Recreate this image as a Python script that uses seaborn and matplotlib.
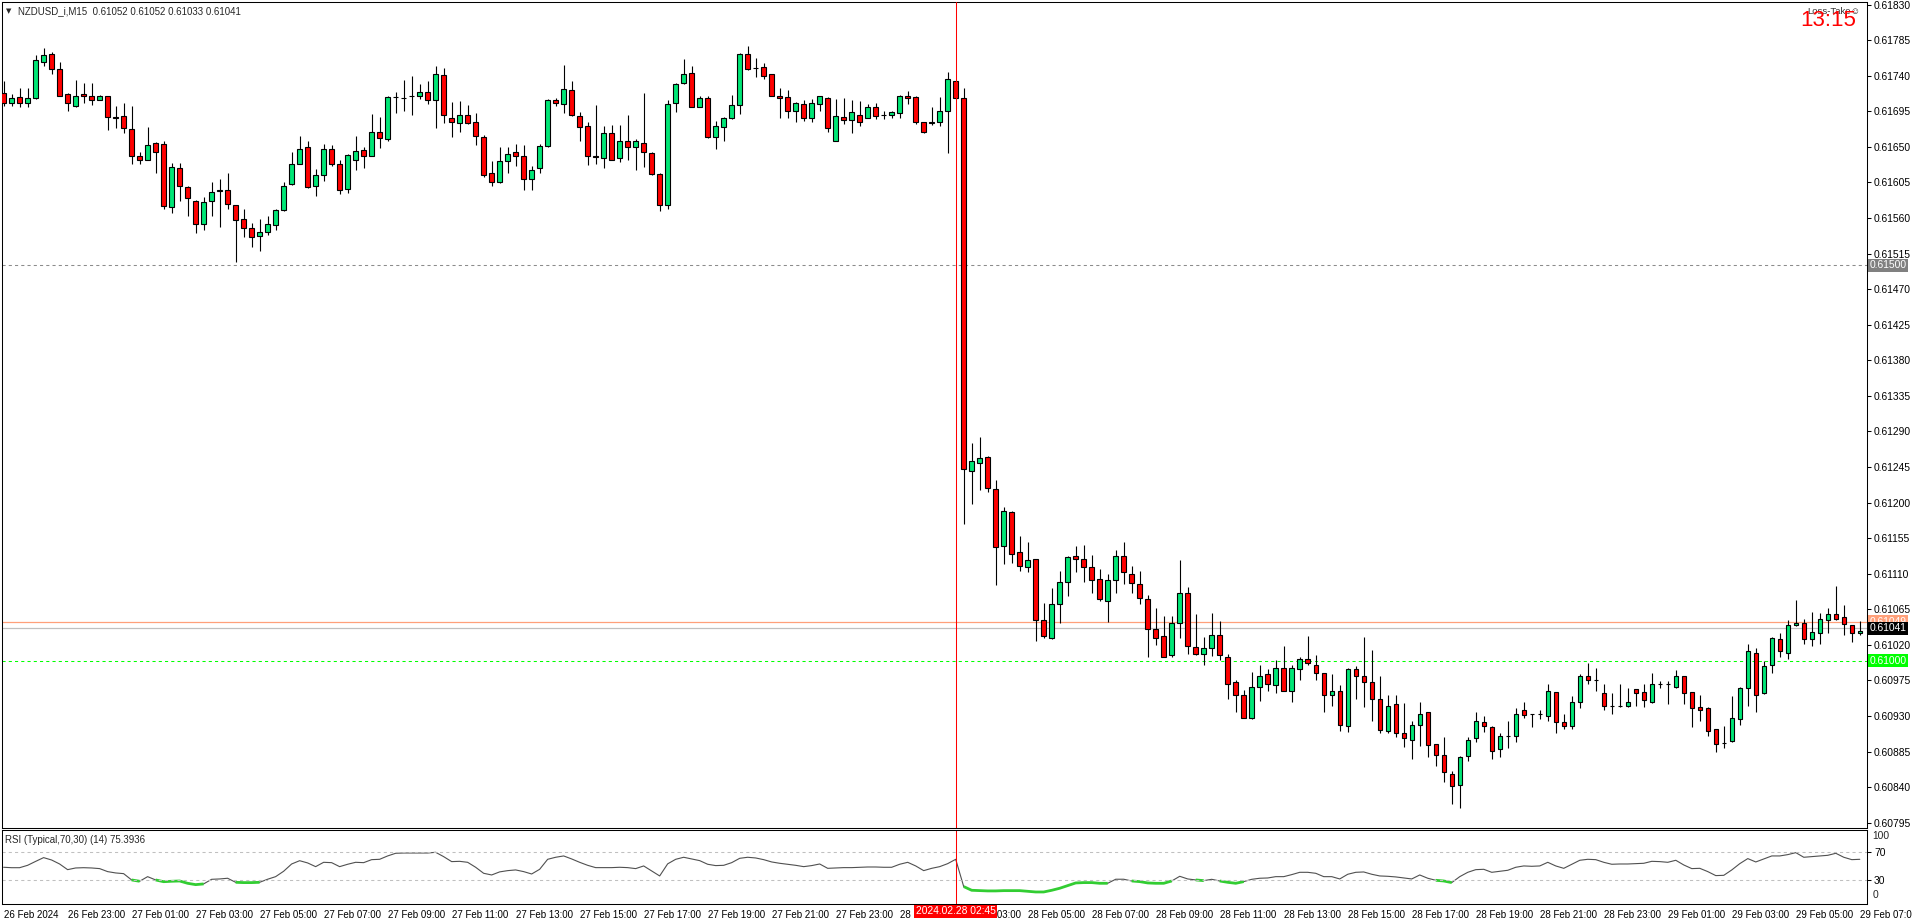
import numpy as np
import pandas as pd
import matplotlib
matplotlib.use("Agg")
import matplotlib.pyplot as plt
import matplotlib.transforms as mtransforms
import seaborn as sns

# NZDUSD_i M15 bars, prices in points (1 point = 0.00001)
opens = [61718, 61706, 61713, 61706, 61712, 61758, 61768, 61749, 61717, 61702,
         61717, 61715, 61710, 61715, 61688, 61689, 61673, 61639, 61634, 61655,
         61654, 61574, 61623, 61599, 61581, 61553, 61581, 61594, 61596, 61576,
         61559, 61548, 61537, 61542, 61551, 61570, 61603, 61629, 61650, 61601,
         61614, 61648, 61629, 61597, 61634, 61646, 61639, 61669, 61660, 61713,
         61712, 61714, 61715, 61719, 61709, 61741, 61687, 61680, 61691, 61681,
         61663, 61617, 61605, 61632, 61643, 61639, 61610, 61623, 61651, 61709,
         61704, 61722, 61689, 61676, 61639, 61636, 61667, 61636, 61658, 61650,
         61655, 61642, 61616, 61577, 61706, 61731, 61743, 61701, 61712, 61662,
         61675, 61687, 61703, 61768, 61750, 61751, 61742, 61715, 61713, 61696,
         61704, 61687, 61704, 61712, 61658, 61688, 61684, 61691, 61687, 61700,
         61690, 61690, 61693, 61715, 61713, 61682, 61680, 61682, 61696, 61734,
         61712, 61240, 61250, 61258, 61217, 61145, 61188, 61137, 61118, 61128,
         61051, 61029, 61072, 61100, 61132, 61128, 61118, 61103, 61076, 61102,
         61132, 61110, 61097, 61078, 61040, 61031, 61007, 61048, 61085, 61017,
         61009, 61016, 61032, 61005, 60973, 60957, 60928, 60967, 60983, 60969,
         60991, 60962, 60990, 61002, 60995, 60984, 60957, 60962, 60917, 60990,
         60980, 60973, 60952, 60911, 60945, 60909, 60900, 60919, 60935, 60894,
         60881, 60857, 60843, 60879, 60902, 60923, 60916, 60888, 60905, 60905,
         60938, 60932, 60932, 60930, 60960, 60923, 60917, 60948, 60980, 60976,
         60959, 60943, 60943, 60942, 60964, 60960, 60948, 60971, 60970, 60967,
         60981, 60960, 60941, 60940, 60913, 60896, 60898, 60926, 60966, 61010,
         60959, 60994, 61028, 61010, 61045, 61048, 61027, 61035, 61052, 61059,
         61055, 61045, 61035]
highs = [61734, 61717, 61724, 61725, 61766, 61775, 61770, 61758, 61718, 61735,
         61731, 61731, 61716, 61715, 61702, 61705, 61702, 61644, 61675, 61656,
         61658, 61630, 61630, 61600, 61583, 61587, 61605, 61609, 61617, 61576,
         61571, 61554, 61559, 61562, 61572, 61605, 61643, 61664, 61657, 61622,
         61654, 61653, 61633, 61641, 61664, 61650, 61692, 61688, 61714, 61720,
         61735, 61740, 61729, 61733, 61752, 61750, 61707, 61708, 61703, 61693,
         61665, 61632, 61650, 61650, 61654, 61652, 61626, 61654, 61711, 61712,
         61754, 61733, 61694, 61682, 61703, 61676, 61678, 61678, 61691, 61660,
         61718, 61644, 61617, 61710, 61731, 61761, 61752, 61715, 61715, 61683,
         61688, 61716, 61769, 61778, 61762, 61756, 61742, 61725, 61722, 61707,
         61709, 61711, 61714, 61713, 61711, 61712, 61709, 61708, 61704, 61705,
         61695, 61695, 61716, 61721, 61714, 61682, 61701, 61713, 61745, 61734,
         61725, 61275, 61283, 61259, 61228, 61194, 61189, 61158, 61150, 61128,
         61073, 61092, 61113, 61133, 61145, 61146, 61134, 61116, 61110, 61140,
         61150, 61120, 61113, 61083, 61066, 61056, 61056, 61127, 61093, 61059,
         61030, 61060, 61050, 61008, 60975, 60963, 60986, 60994, 60989, 61001,
         61018, 60994, 61004, 61031, 61007, 60985, 60983, 60969, 60991, 60993,
         61030, 61013, 60981, 60956, 60957, 60947, 60924, 60948, 60935, 60894,
         60903, 60860, 60879, 60903, 60935, 60930, 60917, 60909, 60924, 60940,
         60948, 60933, 60937, 60971, 60960, 60932, 60955, 60983, 60997, 60991,
         60970, 60959, 60970, 60966, 60964, 60971, 60984, 60974, 60974, 60988,
         60981, 60960, 60957, 60941, 60914, 60917, 60955, 60967, 61021, 61016,
         60999, 61030, 61035, 61051, 61077, 61053, 61061, 61060, 61066, 61095,
         61071, 61045, 61050]
lows = [61702, 61702, 61701, 61701, 61711, 61752, 61742, 61714, 61695, 61701,
        61706, 61703, 61709, 61671, 61674, 61668, 61628, 61628, 61633, 61617,
        61572, 61567, 61582, 61562, 61541, 61545, 61562, 61549, 61572, 61504,
        61536, 61523, 61518, 61539, 61545, 61569, 61602, 61628, 61598, 61588,
        61607, 61626, 61590, 61592, 61621, 61623, 61638, 61649, 61658, 61693,
        61696, 61690, 61711, 61704, 61674, 61680, 61662, 61669, 61679, 61653,
        61612, 61601, 61604, 61617, 61626, 61595, 61596, 61617, 61650, 61702,
        61693, 61689, 61658, 61627, 61629, 61623, 61633, 61631, 61634, 61621,
        61625, 61615, 61569, 61571, 61694, 61730, 61700, 61700, 61661, 61647,
        61658, 61685, 61692, 61747, 61739, 61736, 61714, 61686, 61687, 61681,
        61683, 61682, 61695, 61669, 61657, 61679, 61668, 61677, 61686, 61685,
        61685, 61687, 61687, 61704, 61679, 61668, 61678, 61677, 61642, 61711,
        61173, 61198, 61216, 61214, 61096, 61122, 61124, 61114, 61112, 61025,
        61029, 61028, 61048, 61082, 61112, 61099, 61086, 61075, 61049, 61085,
        61097, 61086, 61072, 61005, 61020, 61004, 61004, 61029, 61009, 61007,
        60994, 61006, 61001, 60952, 60935, 60927, 60926, 60949, 60962, 60959,
        60961, 60948, 60976, 60994, 60975, 60935, 60942, 60911, 60910, 60952,
        60941, 60924, 60909, 60909, 60904, 60891, 60875, 60892, 60878, 60867,
        60847, 60819, 60814, 60873, 60897, 60910, 60875, 60878, 60890, 60897,
        60928, 60916, 60926, 60924, 60909, 60913, 60913, 60940, 60970, 60961,
        60938, 60933, 60941, 60941, 60943, 60941, 60947, 60965, 60945, 60965,
        60945, 60916, 60924, 60905, 60884, 60890, 60897, 60919, 60943, 60935,
        60958, 60985, 61004, 61002, 61044, 61021, 61018, 61021, 61035, 61052,
        61032, 61024, 61032]
closes = [61706, 61712, 61706, 61712, 61760, 61766, 61748, 61715, 61706, 61715,
          61714, 61709, 61715, 61688, 61687, 61674, 61639, 61634, 61653, 61644,
          61575, 61625, 61600, 61586, 61553, 61580, 61593, 61596, 61578, 61558,
          61547, 61536, 61543, 61552, 61570, 61601, 61629, 61648, 61599, 61615,
          61647, 61628, 61596, 61640, 61645, 61639, 61669, 61661, 61713, 61713,
          61712, 61714, 61719, 61710, 61742, 61691, 61681, 61690, 61680, 61664,
          61615, 61606, 61632, 61641, 61638, 61610, 61621, 61651, 61710, 61705,
          61723, 61690, 61675, 61638, 61637, 61668, 61634, 61658, 61650, 61657,
          61643, 61616, 61577, 61704, 61729, 61742, 61701, 61712, 61663, 61676,
          61686, 61703, 61768, 61748, 61750, 61740, 61715, 61712, 61696, 61705,
          61686, 61705, 61714, 61674, 61689, 61684, 61694, 61682, 61701, 61689,
          61690, 61694, 61715, 61712, 61682, 61669, 61682, 61696, 61736, 61712,
          61242, 61252, 61257, 61219, 61144, 61189, 61135, 61120, 61127, 61052,
          61031, 61072, 61099, 61131, 61128, 61119, 61102, 61078, 61102, 61133,
          61112, 61098, 61079, 61040, 61029, 61005, 61048, 61085, 61018, 61008,
          61016, 61032, 61007, 60970, 60956, 60928, 60967, 60981, 60970, 60991,
          60962, 60991, 61002, 60997, 60985, 60957, 60962, 60918, 60989, 60981,
          60973, 60951, 60912, 60943, 60909, 60902, 60919, 60933, 60893, 60881,
          60859, 60842, 60878, 60900, 60924, 60917, 60886, 60905, 60905, 60933,
          60931, 60932, 60932, 60961, 60923, 60917, 60948, 60981, 60975, 60975,
          60942, 60943, 60942, 60948, 60959, 60950, 60971, 60971, 60970, 60980,
          60959, 60940, 60938, 60911, 60895, 60896, 60928, 60965, 61012, 60957,
          60993, 61029, 61012, 61045, 61048, 61028, 61036, 61053, 61059, 61053,
          61046, 61035, 61038]
rsi_values = [48.6, 48.0, 48.0, 51.4, 57.0, 62.4, 59.0, 53.3, 45.2, 47.6,
              48.0, 47.6, 46.7, 42.4, 40.5, 39.5, 30.5, 28.6, 35.2, 30.5,
              28.0, 28.6, 29.0, 25.7, 23.8, 24.8, 31.4, 31.9, 32.9, 27.1,
              26.7, 26.7, 27.1, 31.5, 35.2, 42.9, 53.3, 58.0, 54.8, 49.5,
              55.7, 55.2, 49.5, 52.9, 55.7, 55.2, 59.5, 60.0, 64.8, 68.6,
              69.0, 69.0, 69.0, 69.0, 70.0, 63.8, 56.7, 57.1, 55.7, 48.6,
              40.0, 37.6, 42.0, 43.8, 44.8, 42.4, 39.0, 45.7, 60.0, 62.9,
              64.8, 60.5, 55.7, 51.4, 48.1, 48.1, 48.1, 48.6, 48.1, 46.7,
              50.5, 43.3, 36.2, 53.5, 60.0, 62.9, 60.5, 58.1, 52.9, 51.0,
              51.4, 55.2, 61.4, 62.9, 61.9, 59.5, 56.2, 54.3, 52.9, 51.4,
              49.5, 51.0, 53.3, 47.1, 47.6, 48.1, 48.1, 48.6, 49.0, 49.0,
              48.6, 48.6, 52.9, 55.7, 50.5, 43.8, 47.1, 49.5, 53.8, 60.0,
              21.0, 15.7, 15.2, 14.8, 14.8, 15.2, 15.2, 15.2, 14.3, 13.3,
              13.3, 15.7, 18.6, 22.4, 26.2, 26.7, 26.7, 25.7, 25.7, 31.5,
              31.5, 29.0, 28.1, 26.2, 25.7, 25.7, 29.0, 35.7, 31.9, 30.5,
              29.5, 31.4, 29.0, 27.1, 25.7, 28.1, 31.4, 32.9, 33.3, 35.2,
              35.2, 38.1, 41.4, 41.4, 40.0, 35.2, 35.2, 31.9, 38.6, 41.4,
              41.9, 38.6, 36.2, 35.7, 34.8, 33.3, 31.9, 37.6, 32.9, 30.0,
              29.0, 26.7, 35.2, 41.4, 45.2, 45.7, 41.4, 42.9, 44.3, 48.6,
              50.5, 50.0, 50.5, 55.7, 50.5, 47.1, 52.9, 58.6, 60.0, 59.5,
              55.7, 52.9, 53.3, 53.3, 53.8, 54.3, 57.1, 56.7, 55.7, 58.6,
              51.9, 46.7, 47.1, 42.4, 36.7, 37.1, 44.8, 53.8, 61.0, 56.2,
              60.5, 64.8, 64.8, 66.7, 69.5, 62.9, 63.8, 64.8, 65.7, 68.6,
              62.9, 59.5, 60.0]

first_bar = "2024-02-26 21:00"
cursor_time = "2024-02-28 02:45"
price_levels = [0.61830, 0.61785, 0.61740, 0.61695, 0.61650, 0.61605, 0.61560,
                0.61515, 0.61470, 0.61425, 0.61380, 0.61335, 0.61290, 0.61245,
                0.61200, 0.61155, 0.61110, 0.61065, 0.61020, 0.60975, 0.60930,
                0.60885, 0.60840, 0.60795]
round_level = 0.61500
target_level = 0.61000
ask_price = 0.61049
bid_price = 0.61041
rsi_levels = [70, 30]

n = len(opens)
assert len(highs) == n and len(lows) == n and len(closes) == n and len(rsi_values) == n

o = np.array(opens) / 1e5
h = np.array(highs) / 1e5
l = np.array(lows) / 1e5
c = np.array(closes) / 1e5
rsi = np.array(rsi_values)
x = np.arange(n)

times = pd.date_range(first_bar, periods=n, freq="15min")
cursor_idx = times.get_loc(pd.Timestamp(cursor_time))
tick_idx = [0]
tick_labels = [times[0].strftime("%d %b %Y")]
for i, t in enumerate(times):
    if i > 0 and t.minute == 0 and t.hour % 2 == 1:
        tick_idx.append(i)
        tick_labels.append(t.strftime("%d %b %H:%M"))

sns.set_style("white")
plt.rcParams["font.family"] = ["Liberation Sans", "DejaVu Sans"]
plt.rcParams["axes.linewidth"] = 0.75
plt.rcParams["axes.edgecolor"] = "black"

W, H = 1912, 923
def fx(px):
    return px / W
def fy(py):
    return 1 - py / H

fs = 7.4      # price scale
fs_t = 7.0    # time scale and captions
bull = "#00E676"
bear = "#FF0000"

fig = plt.figure(figsize=(W / 100, H / 100), dpi=100)
ax = fig.add_axes([fx(2), fy(827.5), fx(1867) - fx(2), fy(2.3) - fy(827.5)])
ax_rsi = fig.add_axes([fx(2), fy(904), fx(1867) - fx(2), fy(829.5) - fy(904)])

# candles
colors = np.where(c >= o, bull, bear)
ax.vlines(x, l, h, color="black", lw=0.8, zorder=2)
ax.bar(x, np.abs(c - o), bottom=np.minimum(o, c), width=0.56, color=colors,
       edgecolor="black", linewidth=0.8, zorder=3)

ax.axhline(round_level, color="#8c8c8c", lw=0.75, ls=(0, (3, 3)), zorder=1)
ax.axhline(target_level, color="#00ff00", lw=0.75, ls=(0, (3, 3)), zorder=1)
ax.axhline(ask_price, color="#ffa07a", lw=0.9, zorder=1)
ax.axhline(bid_price, color="#c0c0c0", lw=0.9, zorder=1)
ax.axvline(cursor_idx, color="red", lw=0.75, zorder=4)

ax.set_xlim(-0.2, 232.9)
ax.set_ylim(0.607889, 0.618330)
ax.set_xticks([])
ax.yaxis.tick_right()
ax.set_yticks(price_levels)
ax.set_yticklabels([f"{v:.5f}" for v in price_levels])
ax.tick_params(axis="y", direction="out", length=3, width=0.75, pad=2,
               labelsize=fs, colors="black")
for s in ax.spines.values():
    s.set_visible(True)

blend = mtransforms.blended_transform_factory(ax.transAxes, ax.transData)
def price_box(val, bg):
    ax.text(1.0012, val, f"{val:.5f}", transform=blend, ha="left", va="center",
            fontsize=fs, color="white", zorder=6,
            bbox=dict(boxstyle="square,pad=0.15", fc=bg, ec="none"))
price_box(round_level, "#808080")
price_box(ask_price, "#ffa07a")
price_box(bid_price, "black")
price_box(target_level, "#00ff00")

# RSI pane
sns.lineplot(x=x, y=rsi, ax=ax_rsi, color="#505050", lw=0.8)
rsi_low = np.where(rsi < 31, rsi, np.nan)
ax_rsi.plot(x, rsi_low, color="#32cd32", lw=2, solid_capstyle="butt")
for lv in rsi_levels:
    ax_rsi.axhline(lv, color="#c0c0c0", lw=0.75, ls=(0, (3, 3)))
ax_rsi.axvline(cursor_idx, color="red", lw=0.75)
ax_rsi.set_xlim(-0.2, 232.9)
ax_rsi.set_ylim(-3.9, 102.6)
ax_rsi.set_xlabel("")
ax_rsi.set_ylabel("")
ax_rsi.yaxis.tick_right()
ax_rsi.set_yticks(rsi_levels)
ax_rsi.set_yticklabels([str(v) for v in rsi_levels])
ax_rsi.tick_params(axis="y", direction="out", length=3, width=0.75, pad=2,
                   labelsize=fs, colors="black")
ax_rsi.set_xticks(tick_idx)
ax_rsi.set_xticklabels(tick_labels, ha="left")
ax_rsi.tick_params(axis="x", direction="out", length=4, width=0.75, pad=0.5,
                   labelsize=fs_t, colors="black")
for s in ax_rsi.spines.values():
    s.set_visible(True)
ax_rsi.text(1.003, 0.913, "100", transform=ax_rsi.transAxes, ha="left",
            va="center", fontsize=fs)
ax_rsi.text(1.003, 0.12, "0", transform=ax_rsi.transAxes, ha="left",
            va="center", fontsize=fs)

# texts
fig.text(fx(6), fy(10.7), "\u25bc", fontsize=5, va="center", ha="left",
         family=["DejaVu Sans"])
fig.text(fx(18), fy(10.7), "NZDUSD_i,M15  0.61052 0.61052 0.61033 0.61041",
         fontsize=fs_t, va="center", ha="left")
fig.text(fx(5), fy(840), "RSI (Typical,70,30) (14) 75.3936",
         fontsize=fs_t, va="center", ha="left")
fig.text(fx(1807), fy(11), "Loss-Take\u263a", fontsize=6.8, va="center",
         ha="left", color="#333333", family=["Liberation Sans", "DejaVu Sans"])
fig.text(fx(1800), fy(20), "13:15", fontsize=16, va="center", ha="left",
         color="red")
tb = mtransforms.blended_transform_factory(ax_rsi.transData, fig.transFigure)
fig.text(cursor_idx, fy(911.5), cursor_time.replace("-", "."), transform=tb,
         fontsize=fs, color="white", ha="center", va="center",
         bbox=dict(boxstyle="square,pad=0.15", fc="red", ec="none"))

fig.savefig("out.png", dpi=100, facecolor="white")
